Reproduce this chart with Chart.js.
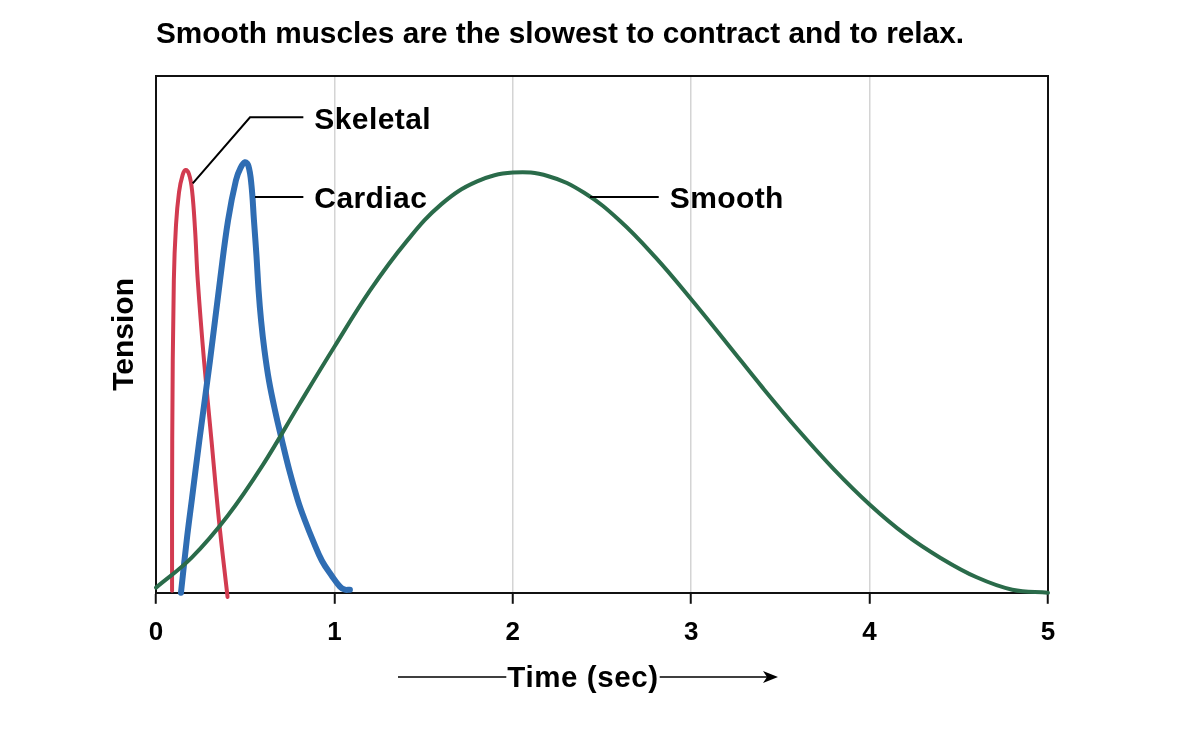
<!DOCTYPE html>
<html>
<head>
<meta charset="utf-8">
<title>Muscle contraction time</title>
<script src="https://cdn.jsdelivr.net/npm/chart.js@4.4.1/dist/chart.umd.min.js"></script>
<style>
	html, body { margin: 0; padding: 0; background: #fff; }
	#wrap { width: 1202px; height: 740px; }
</style>
</head>
<body>
<div id="wrap"><canvas id="chart" width="1202" height="740"></canvas></div>
<script>
// values (time in sec, tension in arbitrary units 0-100)
var timeTicks = [0, 1, 2, 3, 4, 5];

var skeletalTime    = [0.090, 0.091, 0.100, 0.112, 0.129, 0.149, 0.166, 0.185, 0.202, 0.219, 0.234, 0.269, 0.311, 0.353, 0.401];
var skeletalTension = [0.4, 29.5, 60.5, 71.1, 77.5, 80.8, 81.8, 81.0, 77.9, 70.2, 60.5, 45.0, 29.5, 14.0, -0.8];

var cardiacTime    = [0.140, 0.172, 0.200, 0.243, 0.303, 0.359, 0.404, 0.448, 0.474, 0.499, 0.518, 0.535, 0.549, 0.563, 0.575, 0.589, 0.608, 0.633, 0.667, 0.706, 0.748, 0.796, 0.835, 0.880, 0.930, 0.985, 1.031, 1.059, 1.087];
var cardiacTension = [0, 10.1, 17.8, 29.5, 45.0, 60.5, 72.1, 79.8, 82.2, 83.3, 82.6, 78.9, 72.1, 65.3, 58.5, 52.7, 46.9, 41.1, 35.3, 29.5, 23.6, 17.8, 14.0, 10.1, 6.2, 3.3, 1.2, 0.6, 0.6];

var smoothTime    = [0, 0.2, 0.4, 0.6, 0.8, 1.0, 1.2, 1.4, 1.6, 1.8, 2.0, 2.2, 2.4, 2.6, 2.8, 3.0, 3.2, 3.4, 3.6, 3.8, 4.0, 4.2, 4.4, 4.6, 4.8, 5.0];
var smoothTension = [1.0, 6.8, 14.8, 24.8, 36.3, 47.6, 58.5, 67.8, 75.2, 79.6, 81.3, 80.6, 77.4, 72.0, 64.9, 56.8, 48.3, 39.7, 31.5, 23.9, 17.1, 11.3, 6.7, 3.0, 0.6, 0];

var chartTitle = 'Smooth muscles are the slowest to contract and to relax.';
var xTitle = 'Time (sec)';
var yTitle = 'Tension';

// callout labels: from = point on the curve, bend = optional elbow, to = end of leader (time)
var callouts = [
	{ text: 'Skeletal', from: [0.206, 79.2], bend: [0.527, 92.0], to: 0.826 },
	{ text: 'Cardiac',  from: [0.555, 76.6], bend: null,          to: 0.826 },
	{ text: 'Smooth',   from: [2.433, 76.6], bend: null,          to: 2.818 }
];

var FONT = "'Liberation Sans', Arial, Helvetica, sans-serif";
Chart.defaults.font.family = FONT;
Chart.defaults.color = '#000';

function pairs(xs, ys) {
	return xs.map(function(x, i) { return { x: x, y: ys[i] }; });
}

var framePlugin = {
	id: 'frame',
	beforeDatasetsDraw: function(chart) {
		var a = chart.chartArea, ctx = chart.ctx;
		ctx.save();
		ctx.strokeStyle = '#111';
		ctx.lineWidth = 2;
		ctx.beginPath();
		ctx.moveTo(a.left, a.bottom);
		ctx.lineTo(a.left, a.top);
		ctx.lineTo(a.right, a.top);
		ctx.lineTo(a.right, a.bottom);
		ctx.stroke();
		ctx.restore();
	}
};

var calloutPlugin = {
	id: 'callouts',
	afterDatasetsDraw: function(chart) {
		var ctx = chart.ctx, sx = chart.scales.x, sy = chart.scales.y;
		ctx.save();
		ctx.strokeStyle = '#000';
		ctx.lineWidth = 2;
		ctx.fillStyle = '#000';
		ctx.font = 'bold 30px ' + FONT;
		if ('letterSpacing' in ctx) ctx.letterSpacing = '0.4px';
		ctx.textBaseline = 'middle';
		ctx.textAlign = 'left';
		callouts.forEach(function(c) {
			var x0 = sx.getPixelForValue(c.from[0]), y0 = sy.getPixelForValue(c.from[1]);
			var yEnd = y0;
			ctx.beginPath();
			ctx.moveTo(x0, y0);
			if (c.bend) {
				var bx = sx.getPixelForValue(c.bend[0]), by = sy.getPixelForValue(c.bend[1]);
				ctx.lineTo(bx, by);
				yEnd = by;
			}
			var xe = sx.getPixelForValue(c.to);
			ctx.lineTo(xe, yEnd);
			ctx.stroke();
			ctx.fillText(c.text, xe + 11, yEnd + 3);
		});
		ctx.restore();
	}
};

var timeArrowPlugin = {
	id: 'timeArrow',
	afterDraw: function(chart) {
		var ctx = chart.ctx, a = chart.chartArea;
		var cx = a.left + 427, cy = 677;
		ctx.save();
		ctx.font = 'bold 29.5px ' + FONT;
		if ('letterSpacing' in ctx) ctx.letterSpacing = '0.6px';
		ctx.fillStyle = '#000';
		ctx.textAlign = 'center';
		ctx.textBaseline = 'middle';
		ctx.fillText(xTitle, cx, cy + 2);
		var w = ctx.measureText(xTitle).width;
		var xs = a.left + 242, xt = a.left + 622;
		ctx.strokeStyle = '#000';
		ctx.lineWidth = 1.6;
		ctx.beginPath();
		ctx.moveTo(xs, cy);
		ctx.lineTo(cx - w / 2 - 1, cy);
		ctx.moveTo(cx + w / 2 + 1, cy);
		ctx.lineTo(xt - 8, cy);
		ctx.stroke();
		ctx.beginPath();
		ctx.moveTo(xt, cy);
		ctx.lineTo(xt - 15, cy - 6);
		ctx.lineTo(xt - 11, cy);
		ctx.lineTo(xt - 15, cy + 6);
		ctx.closePath();
		ctx.fill();
		ctx.restore();
	}
};

var ctx = document.getElementById('chart').getContext('2d');
var myChart = new Chart(ctx, {
	type: 'line',
	data: {
		datasets: [
			{ label: 'Smooth',   data: pairs(smoothTime, smoothTension),     borderColor: '#2a6b4a', borderWidth: 4,   order: 0, clip: false },
			{ label: 'Cardiac',  data: pairs(cardiacTime, cardiacTension),   borderColor: '#2f6db3', borderWidth: 6,   order: 1, clip: false },
			{ label: 'Skeletal', data: pairs(skeletalTime, skeletalTension), borderColor: '#d23b50', borderWidth: 4,   order: 2, clip: false }
		]
	},
	options: {
		responsive: false,
		animation: false,
		layout: { padding: { left: 107, right: 154, top: 0, bottom: 79 } },
		elements: {
			point: { radius: 0 },
			line: { tension: 0.4, fill: false, borderCapStyle: 'round', capBezierPoints: false }
		},
		plugins: {
			legend: { display: false },
			tooltip: { enabled: false },
			title: {
				display: true,
				text: chartTitle,
				align: 'start',
				fullSize: false,
				color: '#000',
				font: { size: 29.8, weight: 'bold' },
				padding: { top: 17, bottom: 23.2 }
			}
		},
		scales: {
			x: {
				type: 'linear',
				min: 0,
				max: 5,
				afterBuildTicks: function(scale) {
					scale.ticks = timeTicks.map(function(v) { return { value: v }; });
				},
				ticks: { color: '#000', font: { size: 26, weight: 'bold' }, padding: 13, maxRotation: 0 },
				grid: {
					color: function(c) {
						return (c.tick && (c.tick.value === 0 || c.tick.value === 5)) ? '#111' : '#d4d4d4';
					},
					lineWidth: 1.5,
					tickColor: '#111',
					tickLength: 11,
					tickWidth: 2
				},
				border: { color: '#111', width: 2 }
			},
			y: {
				min: 0,
				max: 100,
				ticks: { display: false },
				grid: { display: false, drawTicks: false },
				border: { color: '#111', width: 2 },
				title: {
					display: true,
					text: yTitle,
					color: '#000',
					font: { size: 30, weight: 'bold' },
					padding: { top: 0, bottom: 13 }
				}
			}
		}
	},
	plugins: [framePlugin, calloutPlugin, timeArrowPlugin]
});
</script>
</body>
</html>
